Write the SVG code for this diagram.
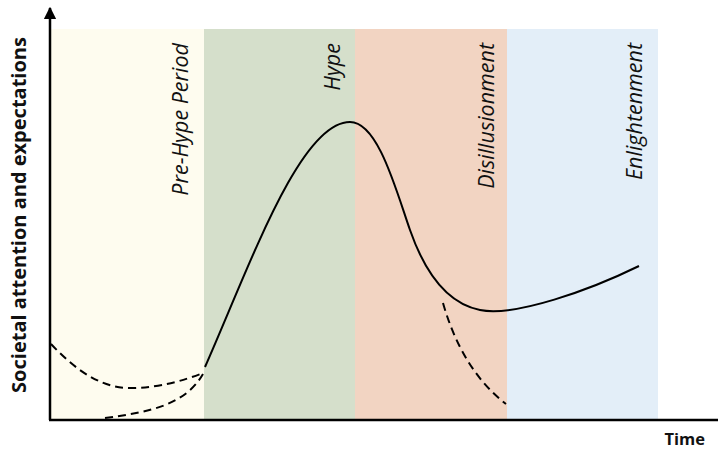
<svg xmlns="http://www.w3.org/2000/svg" width="718" height="452" viewBox="0 0 718 452">
<style>
.lbl{font-family:"Open Sans","Liberation Sans",sans-serif;font-style:italic;font-size:21.5px;fill:#111;text-anchor:end}
.ax{font-family:"Open Sans","Liberation Sans",sans-serif;font-weight:bold;fill:#111}
.curve{fill:none;stroke:#000;stroke-width:2}
.dash{fill:none;stroke:#000;stroke-width:2;stroke-dasharray:8 5}
</style>
<defs>
<marker id="arr" viewBox="0 0 10 10" refX="9" refY="5" markerWidth="5" markerHeight="5" orient="auto"><path d="M0,0 L10,5 L0,10 z" fill="#000"/></marker>
</defs>
<rect width="718" height="452" fill="#fff"/>
<g id="bands">
<rect x="51" y="29" width="153" height="390" fill="#FEFCEF"/>
<rect x="204" y="29" width="151" height="390" fill="#D5DFCB"/>
<rect x="355" y="29" width="152" height="390" fill="#F2D4C2"/>
<rect x="507" y="29" width="151" height="390" fill="#E3EEF8"/>
</g>
<g id="labels">
<text class="lbl" transform="translate(188,43) rotate(-90)">Pre-Hype Period</text>
<text class="lbl" transform="translate(340,43) rotate(-90)">Hype</text>
<text class="lbl" transform="translate(494,43) rotate(-90)">Disillusionment</text>
<text class="lbl" transform="translate(642,43) rotate(-90)">Enlightenment</text>
</g>
<g id="axes">
<line x1="50" y1="420" x2="50" y2="8" stroke="#000" stroke-width="2.5" marker-end="url(#arr)"/>
<line x1="49" y1="420" x2="718" y2="420" stroke="#000" stroke-width="2.5"/>
<text class="ax" font-size="20" text-anchor="middle" transform="translate(26,215) rotate(-90)">Societal attention and expectations</text>
<text class="ax" font-size="16.5" x="705" y="445" text-anchor="end">Time</text>
</g>
<g id="connectors">
<path class="curve" d="M205,367 C250,265 300,122 350,122 C378,122 396,190 410,230 C424,270 445,303 480,310 C515,317 590,290 639,266"/>
<path class="dash" d="M443,303 C455,345 475,380 506,404"/>
<path class="dash" d="M51,344 C80,375 105,388 130,388 C160,388 185,380 203,373"/>
<path class="dash" d="M105,418 C150,412 185,405 203,374"/>
</g>
</svg>
